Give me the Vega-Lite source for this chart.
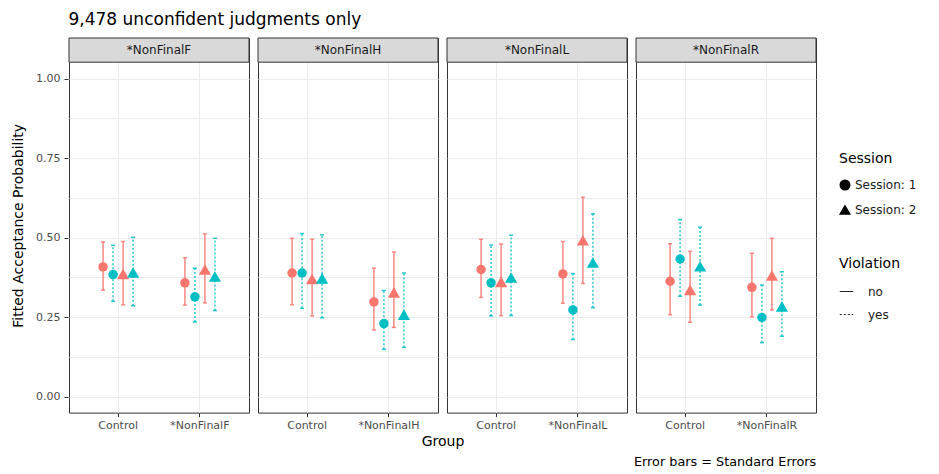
{
  "$schema": "https://vega.github.io/schema/vega-lite/v6.json",
  "padding": {"left": 11, "top": 11, "right": 5, "bottom": 5},
  "config": {
    "font": "DejaVu Sans",
    "view": {"stroke": "#333333", "strokeWidth": 1},
    "axis": {
      "labelColor": "#4D4D4D",
      "labelFontSize": 11,
      "tickColor": "#333333",
      "tickSize": 4,
      "domain": false,
      "gridColor": "#EBEBEB",
      "titleFontWeight": "normal",
      "titleFontSize": 14,
      "titleColor": "#000000"
    },
    "legend": {
      "titleFontSize": 14,
      "titleFontWeight": "normal",
      "titleColor": "#000000",
      "titlePadding": 13,
      "labelFontSize": 12,
      "labelColor": "#1A1A1A",
      "rowPadding": 9
    }
  },
  "title": {"text": "9,478 unconfident judgments only", "anchor": "start", "frame": "bounds", "fontSize": 17, "fontWeight": "normal", "color": "#000000", "dx": 57, "offset": 8},
  "vconcat": [
    {
      "title": {"text": "Error bars = Standard Errors", "orient": "bottom", "anchor": "start", "frame": "group", "fontSize": 12.8, "fontWeight": "normal", "color": "#000000", "dx": 565, "offset": 7},
      "data": {
        "values": [
          {"Panel": "*NonFinalF", "Group": "Control", "Session": 1, "Violation": "no", "p": 0.408, "lo": 0.335, "hi": 0.487},
          {"Panel": "*NonFinalF", "Group": "Control", "Session": 1, "Violation": "yes", "p": 0.384, "lo": 0.300, "hi": 0.476},
          {"Panel": "*NonFinalF", "Group": "Control", "Session": 2, "Violation": "no", "p": 0.386, "lo": 0.289, "hi": 0.488},
          {"Panel": "*NonFinalF", "Group": "Control", "Session": 2, "Violation": "yes", "p": 0.391, "lo": 0.286, "hi": 0.501},
          {"Panel": "*NonFinalF", "Group": "*NonFinalF", "Session": 1, "Violation": "no", "p": 0.358, "lo": 0.288, "hi": 0.437},
          {"Panel": "*NonFinalF", "Group": "*NonFinalF", "Session": 1, "Violation": "yes", "p": 0.314, "lo": 0.235, "hi": 0.404},
          {"Panel": "*NonFinalF", "Group": "*NonFinalF", "Session": 2, "Violation": "no", "p": 0.400, "lo": 0.295, "hi": 0.512},
          {"Panel": "*NonFinalF", "Group": "*NonFinalF", "Session": 2, "Violation": "yes", "p": 0.378, "lo": 0.271, "hi": 0.498},
          {"Panel": "*NonFinalH", "Group": "Control", "Session": 1, "Violation": "no", "p": 0.389, "lo": 0.289, "hi": 0.498},
          {"Panel": "*NonFinalH", "Group": "Control", "Session": 1, "Violation": "yes", "p": 0.389, "lo": 0.278, "hi": 0.513},
          {"Panel": "*NonFinalH", "Group": "Control", "Session": 2, "Violation": "no", "p": 0.370, "lo": 0.254, "hi": 0.495},
          {"Panel": "*NonFinalH", "Group": "Control", "Session": 2, "Violation": "yes", "p": 0.372, "lo": 0.248, "hi": 0.509},
          {"Panel": "*NonFinalH", "Group": "*NonFinalH", "Session": 1, "Violation": "no", "p": 0.298, "lo": 0.210, "hi": 0.404},
          {"Panel": "*NonFinalH", "Group": "*NonFinalH", "Session": 1, "Violation": "yes", "p": 0.230, "lo": 0.149, "hi": 0.334},
          {"Panel": "*NonFinalH", "Group": "*NonFinalH", "Session": 2, "Violation": "no", "p": 0.328, "lo": 0.218, "hi": 0.455},
          {"Panel": "*NonFinalH", "Group": "*NonFinalH", "Session": 2, "Violation": "yes", "p": 0.258, "lo": 0.155, "hi": 0.389},
          {"Panel": "*NonFinalL", "Group": "Control", "Session": 1, "Violation": "no", "p": 0.400, "lo": 0.312, "hi": 0.495},
          {"Panel": "*NonFinalL", "Group": "Control", "Session": 1, "Violation": "yes", "p": 0.358, "lo": 0.254, "hi": 0.477},
          {"Panel": "*NonFinalL", "Group": "Control", "Session": 2, "Violation": "no", "p": 0.361, "lo": 0.255, "hi": 0.480},
          {"Panel": "*NonFinalL", "Group": "Control", "Session": 2, "Violation": "yes", "p": 0.375, "lo": 0.255, "hi": 0.508},
          {"Panel": "*NonFinalL", "Group": "*NonFinalL", "Session": 1, "Violation": "no", "p": 0.386, "lo": 0.294, "hi": 0.488},
          {"Panel": "*NonFinalL", "Group": "*NonFinalL", "Session": 1, "Violation": "yes", "p": 0.273, "lo": 0.180, "hi": 0.387},
          {"Panel": "*NonFinalL", "Group": "*NonFinalL", "Session": 2, "Violation": "no", "p": 0.492, "lo": 0.356, "hi": 0.627},
          {"Panel": "*NonFinalL", "Group": "*NonFinalL", "Session": 2, "Violation": "yes", "p": 0.422, "lo": 0.280, "hi": 0.575},
          {"Panel": "*NonFinalR", "Group": "Control", "Session": 1, "Violation": "no", "p": 0.363, "lo": 0.258, "hi": 0.481},
          {"Panel": "*NonFinalR", "Group": "Control", "Session": 1, "Violation": "yes", "p": 0.433, "lo": 0.316, "hi": 0.557},
          {"Panel": "*NonFinalR", "Group": "Control", "Session": 2, "Violation": "no", "p": 0.336, "lo": 0.234, "hi": 0.457},
          {"Panel": "*NonFinalR", "Group": "Control", "Session": 2, "Violation": "yes", "p": 0.410, "lo": 0.288, "hi": 0.533},
          {"Panel": "*NonFinalR", "Group": "*NonFinalR", "Session": 1, "Violation": "no", "p": 0.344, "lo": 0.251, "hi": 0.451},
          {"Panel": "*NonFinalR", "Group": "*NonFinalR", "Session": 1, "Violation": "yes", "p": 0.249, "lo": 0.170, "hi": 0.351},
          {"Panel": "*NonFinalR", "Group": "*NonFinalR", "Session": 2, "Violation": "no", "p": 0.381, "lo": 0.273, "hi": 0.498},
          {"Panel": "*NonFinalR", "Group": "*NonFinalR", "Session": 2, "Violation": "yes", "p": 0.284, "lo": 0.190, "hi": 0.393}
        ]
      },
      "transform": [
        {"calculate": "datum.Session + '-' + datum.Violation", "as": "Dodge"},
        {"calculate": "datum.Violation", "as": "ViolationColour"}
      ],
      "facet": {
        "column": {
          "field": "Panel", "type": "nominal",
          "header": {"labels": false, "title": "Group", "titleOrient": "bottom", "titleFontSize": 14, "titleFontWeight": "normal", "titleColor": "#000000", "titlePadding": -7}
        }
      },
      "spacing": 7,
      "resolve": {"scale": {"x": "independent", "xOffset": "independent"}},
      "spec": {
        "width": 180,
        "height": 374.6,
        "layer": [
          {
            "transform": [{"filter": "datum.Group == 'Control' && datum.Dodge == '1-no'"}],
            "mark": {"type": "rect", "fill": "#D9D9D9", "stroke": "#333333", "strokeWidth": 1},
            "encoding": {
              "y": {"datum": 1.052, "type": "quantitative", "scale": {"domain": [-0.05, 1.128], "nice": false, "zero": false}},
              "y2": {"datum": 1.128}
            }
          },
          {
            "transform": [{"filter": "datum.Group == 'Control' && datum.Dodge == '1-no'"}],
            "mark": {"type": "text", "fontSize": 12, "color": "#1A1A1A", "baseline": "middle"},
            "encoding": {
              "y": {"datum": 1.09, "type": "quantitative"},
              "text": {"field": "Panel"}
            }
          },
          {
            "mark": {"type": "rule", "strokeWidth": 1.5, "opacity": 0.85},
            "encoding": {
              "x": {"field": "Group", "type": "nominal", "sort": ["Control", "*NonFinalF", "*NonFinalH", "*NonFinalL", "*NonFinalR"], "scale": {"paddingInner": 0.511, "paddingOuter": 0.3555},
                "axis": {"title": null, "grid": true, "gridWidth": 1, "labelPadding": 3, "labelAngle": 0}},
              "xOffset": {"field": "Dodge", "type": "nominal", "sort": ["1-no", "1-yes", "2-no", "2-yes"], "scale": {"paddingInner": 0, "paddingOuter": 0}},
              "y": {"field": "lo", "type": "quantitative",
                "axis": {"title": "Fitted Acceptance Probability", "grid": true, "gridWidth": 1, "values": [0, 0.125, 0.25, 0.375, 0.5, 0.625, 0.75, 0.875, 1], "format": ".2f",
                  "labelExpr": "datum.value * 4 % 1 == 0 ? datum.label : ''",
                  "tickOpacity": {"condition": {"test": "datum.value * 4 % 1 != 0", "value": 0}, "value": 1},
                  "labelPadding": 4,
                  "titlePadding": 10}},
              "y2": {"field": "hi"},
              "color": {"field": "ViolationColour", "type": "nominal", "scale": {"domain": ["no", "yes"], "range": ["#F8766D", "#00BFC4"]}, "legend": null},
              "strokeDash": {"field": "Violation", "type": "nominal", "scale": {"range": [[1, 0], [2, 2]]},
                "legend": {"title": "Violation", "orient": "none", "legendX": 770, "legendY": 219, "symbolType": "stroke", "symbolSize": 180,
                  "symbolStrokeColor": "#000000", "symbolStrokeWidth": 1.2, "labelOffset": 14,
                  "encode": {"symbols": {"enter": {"stroke": {"value": "#000000"}}, "update": {"stroke": {"value": "#000000"}, "strokeWidth": {"value": 1.2}, "opacity": {"value": 1}}}}}}
            }
          },
          {
            "mark": {"type": "tick", "size": 4, "thickness": 1.5, "opacity": 0.85},
            "encoding": {
              "x": {"field": "Group", "type": "nominal", "sort": ["Control", "*NonFinalF", "*NonFinalH", "*NonFinalL", "*NonFinalR"]},
              "xOffset": {"field": "Dodge", "type": "nominal", "sort": ["1-no", "1-yes", "2-no", "2-yes"]},
              "y": {"field": "lo", "type": "quantitative"},
              "color": {"field": "ViolationColour", "type": "nominal", "legend": null}
            }
          },
          {
            "mark": {"type": "tick", "size": 4, "thickness": 1.5, "opacity": 0.85},
            "encoding": {
              "x": {"field": "Group", "type": "nominal", "sort": ["Control", "*NonFinalF", "*NonFinalH", "*NonFinalL", "*NonFinalR"]},
              "xOffset": {"field": "Dodge", "type": "nominal", "sort": ["1-no", "1-yes", "2-no", "2-yes"]},
              "y": {"field": "hi", "type": "quantitative"},
              "color": {"field": "ViolationColour", "type": "nominal", "legend": null}
            }
          },
          {
            "transform": [{"filter": "datum.Session == 1"}],
            "mark": {"type": "point", "filled": true, "opacity": 1, "size": 90},
            "encoding": {
              "x": {"field": "Group", "type": "nominal", "sort": ["Control", "*NonFinalF", "*NonFinalH", "*NonFinalL", "*NonFinalR"]},
              "xOffset": {"field": "Dodge", "type": "nominal", "sort": ["1-no", "1-yes", "2-no", "2-yes"]},
              "y": {"field": "p", "type": "quantitative"},
              "color": {"field": "ViolationColour", "type": "nominal", "legend": null},
              "shape": {"field": "Session", "type": "nominal", "scale": {"domain": [1, 2], "range": ["circle", "triangle-up"]},
                "legend": {"title": "Session", "orient": "none", "legendX": 770, "legendY": 114, "labelExpr": "'Session: ' + datum.label",
                  "symbolFillColor": "#000000", "symbolStrokeColor": "#000000", "symbolSize": 90,
                  "encode": {"symbols": {"update": {"fill": {"value": "#000000"}, "stroke": {"value": "#000000"}, "opacity": {"value": 1}}}}}}
            }
          },
          {
            "transform": [{"filter": "datum.Session == 2"}],
            "mark": {"type": "point", "filled": true, "opacity": 1, "size": 150},
            "encoding": {
              "x": {"field": "Group", "type": "nominal", "sort": ["Control", "*NonFinalF", "*NonFinalH", "*NonFinalL", "*NonFinalR"]},
              "xOffset": {"field": "Dodge", "type": "nominal", "sort": ["1-no", "1-yes", "2-no", "2-yes"]},
              "y": {"field": "p", "type": "quantitative"},
              "color": {"field": "ViolationColour", "type": "nominal", "legend": null},
              "shape": {"field": "Session", "type": "nominal",
                "legend": {"title": "Session", "orient": "none", "legendX": 770, "legendY": 114, "labelExpr": "'Session: ' + datum.label",
                  "symbolFillColor": "#000000", "symbolStrokeColor": "#000000", "symbolSize": 90,
                  "encode": {"symbols": {"update": {"fill": {"value": "#000000"}, "stroke": {"value": "#000000"}, "opacity": {"value": 1}}}}}}
            }
          }
        ]
      }
    }
  ]
}
